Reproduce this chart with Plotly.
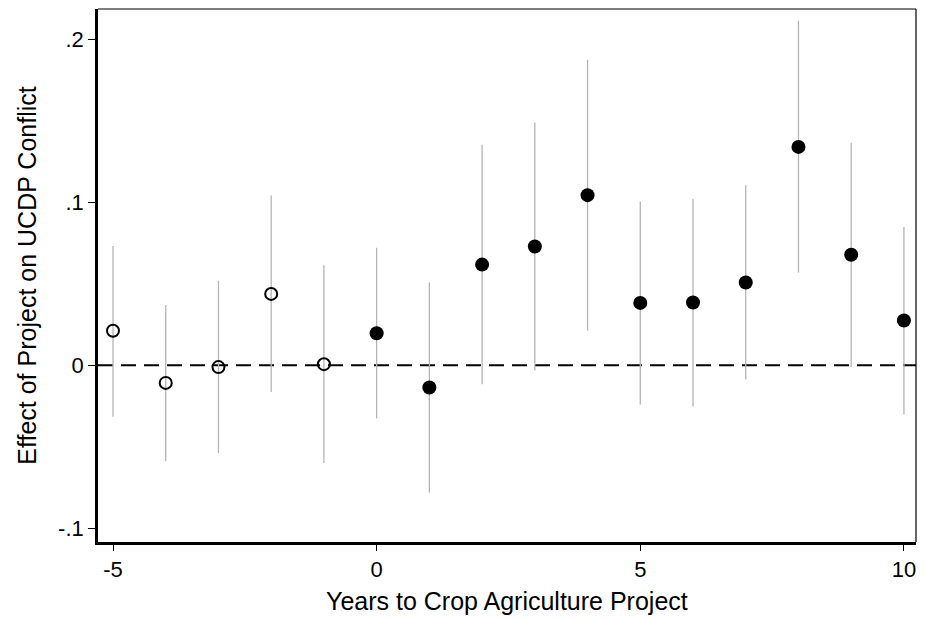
import plotly.graph_objects as go

years = [-5, -4, -3, -2, -1, 0, 1, 2, 3, 4, 5, 6, 7, 8, 9, 10]
coef = [0.0211, -0.0109, -0.0012, 0.0437, 0.0006, 0.0196, -0.0137, 0.0617,
        0.0728, 0.1043, 0.0382, 0.0384, 0.0507, 0.1339, 0.0677, 0.0274]
ci_hi = [0.0731, 0.0369, 0.0517, 0.1041, 0.0613, 0.0720, 0.0507, 0.1352,
         0.1488, 0.1873, 0.1004, 0.1020, 0.1104, 0.2112, 0.1364, 0.0848]
ci_lo = [-0.0316, -0.0590, -0.0539, -0.0165, -0.0600, -0.0327, -0.0782, -0.0117,
         -0.0033, 0.0212, -0.0242, -0.0254, -0.0088, 0.0568, -0.0012, -0.0303]

y_tickvals = [-0.1, 0, 0.1, 0.2]
y_ticktext = ["-.1", "0", ".1", ".2"]
x_tickvals = [-5, 0, 5, 10]
x_ticktext = ["-5", "0", "5", "10"]

FONT = "Liberation Sans, Arial, Helvetica, sans-serif"

pre = [i for i, t in enumerate(years) if t < 0]
post = [i for i, t in enumerate(years) if t >= 0]

def sub(lst, idx):
    return [lst[i] for i in idx]

fig = go.Figure()

for idx, filled in ((pre, False), (post, True)):
    xs = sub(years, idx)
    ys = sub(coef, idx)
    hi = sub(ci_hi, idx)
    lo = sub(ci_lo, idx)
    fig.add_trace(go.Scatter(
        x=xs, y=ys, mode="markers",
        error_y=dict(type="data", symmetric=False,
                     array=[h - c for h, c in zip(hi, ys)],
                     arrayminus=[c - l for c, l in zip(ys, lo)],
                     color="#b4b4b4", thickness=1.3, width=0),
        marker=dict(symbol="circle" if filled else "circle-open",
                    size=14 if filled else 12,
                    color="black",
                    line=dict(color="black", width=0 if filled else 2)),
        showlegend=False,
        cliponaxis=False,
    ))

fig.add_shape(type="line", xref="paper", yref="y", x0=0, x1=1, y0=0, y1=0,
              line=dict(color="black", width=2, dash="15px,8px"), layer="below")

# top/right thin frame
fig.add_shape(type="line", xref="paper", yref="paper", x0=0, x1=1, y0=1, y1=1,
              line=dict(color="black", width=1.2))
fig.add_shape(type="line", xref="paper", yref="paper", x0=1, x1=1, y0=0, y1=1,
              line=dict(color="black", width=1.2))

# x-axis title placed as an annotation below the tick labels
fig.add_annotation(text="Years to Crop Agriculture Project",
                   xref="paper", yref="paper", x=0.5, y=0,
                   xanchor="center", yanchor="middle", yshift=-59,
                   showarrow=False, font=dict(size=25))

# the page body has an 8px margin and clips its content, so the figure is 909x612
fig.update_layout(
    width=909, height=612,
    margin=dict(l=90, r=1, t=1, b=78, autoexpand=False),
    paper_bgcolor="white", plot_bgcolor="white",
    font=dict(family=FONT, color="black", size=22),
    xaxis=dict(range=[-5.2845, 10.229], tickvals=x_tickvals, ticktext=x_ticktext,
               showgrid=False, zeroline=False, automargin=False,
               showline=True, linecolor="black", linewidth=2.6,
               ticks="outside", ticklen=6, tickwidth=1, tickcolor="black",
               tickfont=dict(size=22)),
    yaxis=dict(range=[-0.1085, 0.2185], tickvals=y_tickvals, ticktext=y_ticktext,
               showgrid=False, zeroline=False, automargin=False,
               showline=True, linecolor="black", linewidth=2.6,
               ticks="outside", ticklen=7, tickwidth=1, tickcolor="black",
               tickfont=dict(size=22),
               title=dict(text="Effect of Project on UCDP Conflict",
                          font=dict(size=25))),
)

fig.write_html("out.html")
